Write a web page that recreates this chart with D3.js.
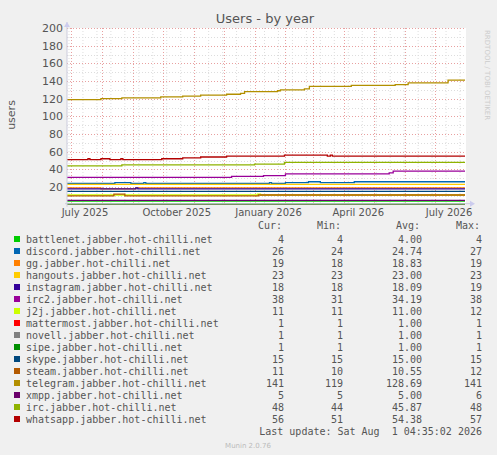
<!DOCTYPE html>
<html><head><meta charset="utf-8">
<script src="https://cdn.jsdelivr.net/npm/d3@7"></script>
<style>body{margin:0;background:#f0f0f0}text{font-family:"DejaVu Sans",sans-serif}</style>
</head><body><div id="chart"></div>
<script>
var names = ["battlenet","discord","gg","hangouts","instagram","irc2","j2j","mattermost","novell","sipe","skype","steam","telegram","xmpp","irc","whatsapp"];
var colors = ["#00cc00","#0066b3","#ff8000","#ffcc00","#330099","#990099","#ccff00","#ff0000","#808080","#008f00","#00487d","#b35a00","#b38f00","#6b006b","#8fb300","#b30000"];
var cur = ["4","26","19","23","18","38","11","1","1","1","15","11","141","5","48","56"];
var min = ["4","24","18","23","18","31","11","1","1","1","15","10","119","5","44","51"];
var avg = ["4.00","24.74","18.83","23.00","18.09","34.19","11.00","1.00","1.00","1.00","15.00","10.55","128.69","5.00","45.87","54.38"];
var max = ["4","27","19","23","19","38","12","1","1","1","15","12","141","6","48","57"];
// step changes: [date, value]
var steps = [
  [["2025-06-27",4]],
  [["2025-06-27",24],["2025-08-14",25],["2025-08-30",24],["2025-09-12",25],["2025-09-14",24],["2026-01-16",25],["2026-01-18",24],["2026-02-01",25],["2026-02-24",26],["2026-03-08",25],["2026-04-11",26]],
  [["2025-06-27",19],["2025-07-31",18],["2025-09-04",19]],
  [["2025-06-27",23]],
  [["2025-06-27",18],["2025-09-04",19],["2025-09-06",18]],
  [["2025-06-27",31],["2025-12-09",32],["2026-01-10",33],["2026-02-01",35],["2026-05-16",36],["2026-05-20",38]],
  [["2025-06-27",11],["2026-01-04",12],["2026-01-07",11]],
  [["2025-06-27",1]],
  [["2025-06-27",1]],
  [["2025-06-27",1]],
  [["2025-06-27",15]],
  [["2025-06-27",10],["2025-08-13",12],["2025-08-24",10],["2026-01-05",11]],
  [["2025-06-27",119],["2025-07-31",120],["2025-08-21",121],["2025-09-29",122],["2025-10-21",123],["2025-11-08",124],["2025-12-04",125],["2025-12-18",126],["2025-12-22",128],["2026-01-24",129],["2026-01-27",130],["2026-02-20",131],["2026-02-25",134],["2026-04-08",135],["2026-05-22",136],["2026-06-04",138],["2026-07-14",141]],
  [["2025-06-27",5]],
  [["2025-06-27",44],["2025-08-21",45],["2026-01-01",46],["2026-01-31",48]],
  [["2025-06-27",51],["2025-07-18",52],["2025-07-20",51],["2025-07-31",52],["2025-08-09",51],["2025-08-20",52],["2025-08-22",51],["2025-09-30",52],["2025-10-21",53],["2025-11-08",54],["2025-12-04",55],["2026-01-31",56],["2026-03-15",55],["2026-03-18",56],["2026-03-20",55]]
];
var quarterLabels = [["2025-07-15","July 2025"],["2025-10-15","October 2025"],["2026-01-15","January 2026"],["2026-04-15","April 2026"],["2026-07-15","July 2026"]];
var yTicks = [20,40,60,80,100,120,140,160,180,200];

var W=497,H=455,L=67,R=466,T=28,B=204.7;
var svg=d3.select("#chart").append("svg").attr("width",W).attr("height",H);
var pd=d3.utcParse("%Y-%m-%d");
var t0=pd("2025-06-27"),t1=pd("2026-08-01");
var x=d3.scaleUtc().domain([t0,t1]).range([L,R]);
var y=d3.scaleLinear().domain([0,200]).range([B,T]);

svg.append("rect").attr("x",L).attr("y",T).attr("width",R-L).attr("height",B-T).attr("fill","#fff");
// minor grid
svg.selectAll(".mx").data(d3.utcWeek.every(2).range(t0,t1)).enter().append("line")
  .attr("x1",d=>x(d)).attr("x2",d=>x(d)).attr("y1",T).attr("y2",B-2)
  .attr("stroke","#ddd").attr("stroke-dasharray","1,2");
svg.selectAll(".my").data(d3.range(10,200,10)).enter().append("line")
  .attr("x1",L).attr("x2",R).attr("y1",d=>Math.round(y(d))+.5).attr("y2",d=>Math.round(y(d))+.5)
  .attr("stroke","#ddd").attr("stroke-dasharray","1,2");
// major grid
svg.selectAll(".Mx").data(d3.utcMonth.range(t0,t1)).enter().append("line")
  .attr("x1",d=>Math.round(x(d))+.5).attr("x2",d=>Math.round(x(d))+.5).attr("y1",T).attr("y2",B-2)
  .attr("stroke","#e8a0a0").attr("stroke-dasharray","1,2");
svg.selectAll(".My").data(yTicks).enter().append("line")
  .attr("x1",L).attr("x2",R).attr("y1",d=>Math.round(y(d))+.5).attr("y2",d=>Math.round(y(d))+.5)
  .attr("stroke","#e8a0a0").attr("stroke-dasharray","1,2");

// series
var line=d3.line().curve(d3.curveStepAfter).x(d=>x(d[0])).y(d=>y(d[1]));
steps.forEach(function(s,i){
  var pts=s.map(p=>[pd(p[0]),p[1]]);
  pts.push([pd("2026-07-31"),s[s.length-1][1]]);
  svg.append("path").attr("d",line(pts)).attr("fill","none").attr("stroke",colors[i]).attr("stroke-width",1.3);
});

// axes
svg.append("line").attr("x1",L-2).attr("x2",R+4).attr("y1",B-1).attr("y2",B-1).attr("stroke","#ccd");
svg.append("line").attr("x1",L).attr("x2",L).attr("y1",T-6).attr("y2",B+2).attr("stroke","#ccd");
svg.append("path").attr("d",`M${R+4},${B-4}L${R+9},${B-1}L${R+4},${B+2}Z`).attr("fill","#cce");
svg.append("path").attr("d",`M${L-3},${T-1}L${L},${T-6}L${L+3},${T-1}Z`).attr("fill","#cce");
svg.selectAll(".yl").data(yTicks).enter().append("text")
  .attr("x",L-4).attr("y",d=>y(d)+4).attr("text-anchor","end").attr("font-size",11).attr("fill","#555").text(d=>d);
svg.selectAll(".xl").data(quarterLabels).enter().append("text")
  .attr("x",d=>x(pd(d[0]))).attr("y",B+11).attr("text-anchor","middle").attr("font-size",10).attr("fill","#555").text(d=>d[1]);

svg.append("text").attr("x",265).attr("y",23).attr("text-anchor","middle").attr("font-size",13).attr("fill","#555").text("Users - by year");
svg.append("text").attr("transform","translate(15,115) rotate(-90)").attr("text-anchor","middle").attr("font-size",11).attr("fill","#555").text("users");
svg.append("text").attr("transform","translate(485,30) rotate(90)").attr("font-size",7).attr("fill","#ccc").text("RRDTOOL / TOBI OETIKER");

// legend
var g=svg.append("g").attr("font-size",10).attr("fill","#555");
var cols=[284,343,422,482];
["Cur:","Min:","Avg:","Max:"].forEach((h,j)=>g.append("text").attr("x",cols[j]-2).attr("y",229).attr("text-anchor","end").style("font-family","DejaVu Sans Mono").text(h));
names.forEach(function(n,i){
  var yy=243+i*12;
  svg.append("rect").attr("x",14).attr("y",yy-7).attr("width",6).attr("height",6).attr("fill",colors[i]);
  g.append("text").attr("x",26).attr("y",yy).style("font-family","DejaVu Sans Mono").text(n+".jabber.hot-chilli.net");
  [cur[i],min[i],avg[i],max[i]].forEach((v,j)=>g.append("text").attr("x",cols[j]).attr("y",yy).attr("text-anchor","end").style("font-family","DejaVu Sans Mono").text(v));
});
g.append("text").attr("x",482).attr("y",435).attr("text-anchor","end").style("font-family","DejaVu Sans Mono").style("white-space","pre").text("Last update: Sat Aug  1 04:35:02 2026");
svg.append("text").attr("x",248).attr("y",448).attr("text-anchor","middle").attr("font-size",7).attr("fill","#bbb").text("Munin 2.0.76");
</script></body></html>
